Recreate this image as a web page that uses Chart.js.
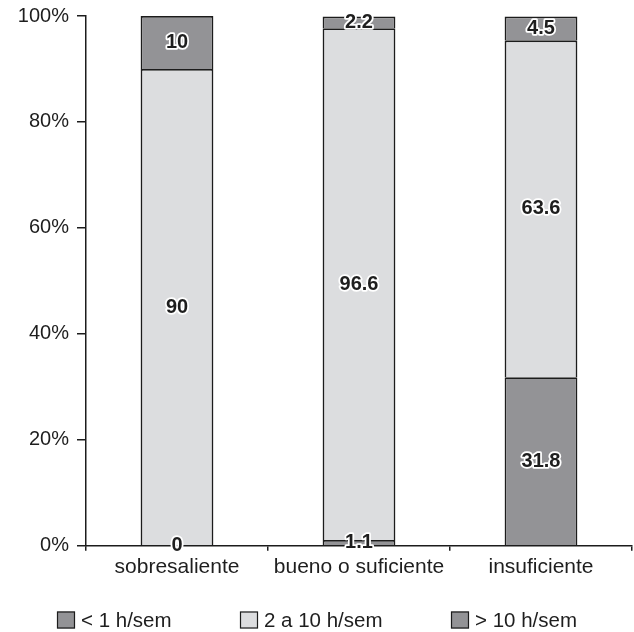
<!DOCTYPE html>
<html>
<head>
<meta charset="utf-8">
<script src="https://cdn.jsdelivr.net/npm/chart.js@4/dist/chart.umd.min.js"></script>
<style>
  html, body { margin: 0; padding: 0; background: #fff; }
  #wrap { width: 634px; height: 632px; position: relative; }
</style>
</head>
<body>
<div id="wrap"><canvas id="c"></canvas></div>
<script>
// Horas de estudio semanales según rendimiento (%)
const categories = ['sobresaliente', 'bueno o suficiente', 'insuficiente'];
const seriesNames = ['< 1 h/sem', '2 a 10 h/sem', '> 10 h/sem'];
const menosDeUna = [0, 1.1, 31.8];
const dosADiez = [90, 96.6, 63.6];
const masDeDiez = [10, 2.2, 4.5];
const yTicks = [0, 20, 40, 60, 80, 100];

const DARK = '#939396';
const LIGHT = '#dcdddf';
const EDGE = '#1c1c1c';
const TEXT = '#1e1e1e';
const FONT = "'Liberation Sans', Arial, sans-serif";

// Etiquetas de valor en negrita con contorno blanco, centradas en cada tramo
const valueLabels = {
  id: 'valueLabels',
  afterDatasetsDraw(chart) {
    const ctx = chart.ctx;
    ctx.save();
    ctx.font = 'bold 20px ' + FONT;
    ctx.textAlign = 'center';
    ctx.textBaseline = 'middle';
    ctx.lineJoin = 'round';
    chart.data.datasets.forEach((ds, i) => {
      const meta = chart.getDatasetMeta(i);
      meta.data.forEach((bar, j) => {
        const txt = String(ds.data[j]);
        const y = (bar.y + bar.base) / 2;
        ctx.lineWidth = 3.5;
        ctx.strokeStyle = '#ffffff';
        ctx.strokeText(txt, bar.x, y);
        ctx.fillStyle = TEXT;
        ctx.fillText(txt, bar.x, y);
      });
    });
    ctx.restore();
  }
};

// Leyenda inferior: cuadro con borde + texto, elementos centrados
const bottomLegend = {
  id: 'bottomLegend',
  afterDraw(chart) {
    const ctx = chart.ctx;
    const box = 18, boxH = 17, gapText = 6, gapItem = 68;
    ctx.save();
    ctx.font = '20.5px ' + FONT;
    ctx.textBaseline = 'middle';
    ctx.textAlign = 'left';
    const items = chart.data.datasets.map(ds => ({
      ds, w: box + gapText + ctx.measureText(ds.label).width
    }));
    const total = items.reduce((s, it) => s + it.w, 0) + gapItem * (items.length - 1);
    let x = Math.round((chart.width - total) / 2);
    const cy = chart.height - 12;
    items.forEach(it => {
      ctx.fillStyle = it.ds.backgroundColor;
      ctx.fillRect(x, cy - boxH / 2, box, boxH);
      ctx.strokeStyle = EDGE;
      ctx.lineWidth = 1.2;
      ctx.strokeRect(x + 0.5, cy - boxH / 2 + 0.5, box - 1, boxH - 1);
      ctx.fillStyle = TEXT;
      ctx.fillText(it.ds.label, x + box + gapText, cy + 1);
      x += Math.round(it.w + gapItem);
    });
    ctx.restore();
  }
};

const mkSet = (label, data, color) => ({
  label, data,
  backgroundColor: color,
  borderColor: EDGE,
  borderWidth: 1.8,
  borderSkipped: 'start',
  categoryPercentage: 1,
  barPercentage: 0.4
});

new Chart(document.getElementById('c'), {
  type: 'bar',
  data: {
    labels: categories,
    datasets: [
      mkSet(seriesNames[0], menosDeUna, DARK),
      mkSet(seriesNames[1], dosADiez, LIGHT),
      mkSet(seriesNames[2], masDeDiez, DARK)
    ]
  },
  options: {
    responsive: true,
    maintainAspectRatio: false,
    animation: false,
    layout: { padding: { top: 16, right: 2, left: 0, bottom: 48 } },
    plugins: {
      tooltip: { enabled: false },
      legend: { display: false }
    },
    scales: {
      x: {
        stacked: true,
        offset: true,
        grid: { display: true, drawOnChartArea: false, offset: true, drawTicks: true, tickLength: 5, color: EDGE, lineWidth: 1.5 },
        border: { display: true, color: EDGE, width: 1.5 },
        ticks: { color: TEXT, font: { family: FONT, size: 21 }, padding: 4 }
      },
      y: {
        stacked: true,
        min: 0,
        max: 100,
        afterBuildTicks(scale) { scale.ticks = yTicks.map(v => ({ value: v })); },
        afterFit(scale) {
          scale.width = 86;
          scale.paddingTop = 0;
          scale.paddingBottom = 0;
        },
        grid: { display: true, drawOnChartArea: false, drawTicks: true, tickLength: 9, color: EDGE, lineWidth: 1.5 },
        border: { display: true, color: EDGE, width: 1.5 },
        ticks: {
          color: TEXT,
          font: { family: FONT, size: 20 },
          padding: 8,
          callback: v => v + '%'
        }
      }
    }
  },
  plugins: [valueLabels, bottomLegend]
});
</script>
</body>
</html>
